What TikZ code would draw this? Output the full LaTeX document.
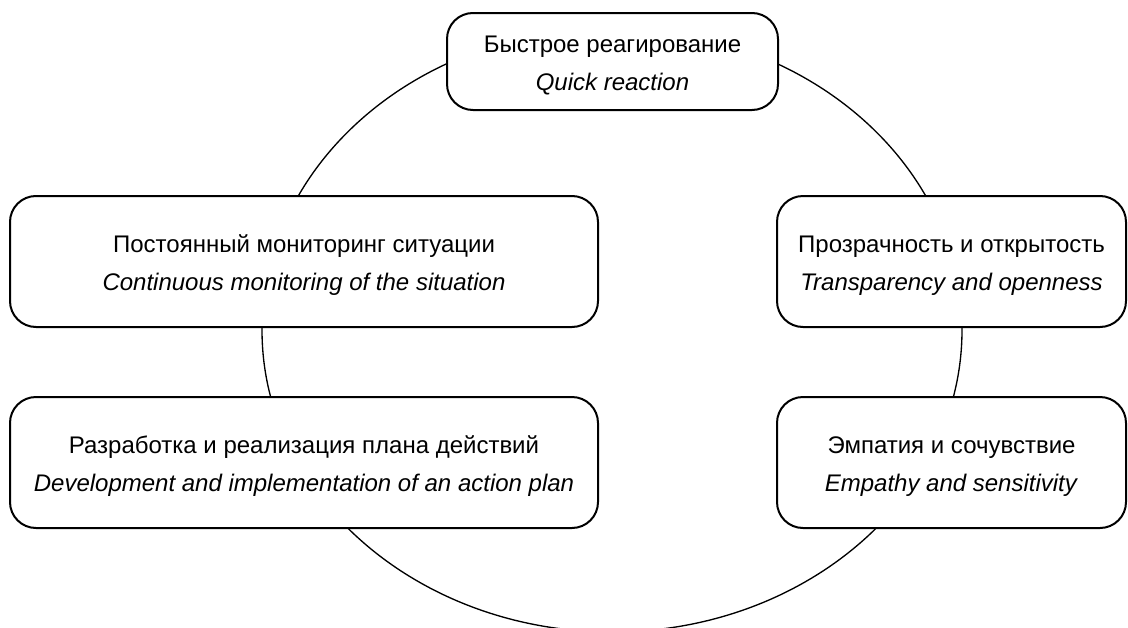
\documentclass[tikz,border=0pt]{standalone}
\usepackage{fontspec}
\setmainfont{Liberation Sans}
\newcommand\boxtext[2]{\rule{0pt}{20pt}#1\\\textit{#2}\rule[-5pt]{0pt}{5pt}}
\begin{document}
\begin{tikzpicture}[x=0.75pt,y=-0.75pt,
  box/.style={draw=black, line width=1.5pt, fill=white, rounded corners=19.5pt,
    inner sep=0pt, align=center, font=\fontsize{18}{28.8}\selectfont},
  ring/.style={draw=black, line width=1pt}]
\useasboundingbox (0,0) rectangle (1128,628);
\begin{scope}
\clip (0,0) rectangle (1128,628);
\draw[ring] (612,330) ellipse [x radius=262.5pt, y radius=226.5pt];
\end{scope}
\node[box, minimum width=248.25pt, minimum height=72.75pt] (quick) at (612.5,61.5)
  {\boxtext{Быстрое реагирование}{Quick reaction}};
\node[box, minimum width=441pt, minimum height=98.25pt] (monitor) at (304,261.5)
  {\boxtext{Постоянный мониторинг ситуации}{Continuous monitoring of the situation}};
\node[box, minimum width=261.75pt, minimum height=98.25pt] (transp) at (951.5,261.5)
  {\boxtext{Прозрачность и открытость}{Transparency and openness}};
\node[box, minimum width=441pt, minimum height=98.25pt] (plan) at (304,462.5)
  {\boxtext{Разработка и реализация плана действий}{Development and implementation of an action plan}};
\node[box, minimum width=261.75pt, minimum height=98.25pt] (empathy) at (951.5,462.5)
  {\boxtext{Эмпатия и сочувствие}{Empathy and sensitivity}};
\end{tikzpicture}
\end{document}
